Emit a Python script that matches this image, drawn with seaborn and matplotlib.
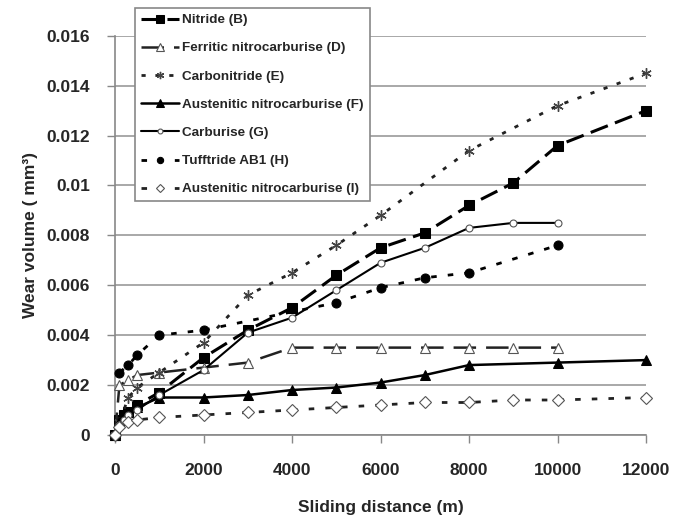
import matplotlib
matplotlib.use("Agg")
import matplotlib.pyplot as plt
from matplotlib.ticker import FuncFormatter, MultipleLocator
import seaborn as sns
import pandas as pd

sns.set_style("white")
plt.rcParams['font.family'] = ['Liberation Sans', 'DejaVu Sans']
plt.rcParams['font.weight'] = 'bold'

# ---- data (sliding distance m, wear volume mm^3) ----
b_x = [0, 100, 200, 300, 500, 1000, 2000, 3000, 4000, 5000, 6000, 7000, 8000, 9000, 10000, 12000]
b_y = [0, 0.0006, 0.0008, 0.0009, 0.0012, 0.0017, 0.0031, 0.0042, 0.0051, 0.0064, 0.0075, 0.0081, 0.0092, 0.0101, 0.0116, 0.0130]

d_x = [0, 100, 300, 500, 1000, 2000, 3000, 4000, 5000, 6000, 7000, 8000, 9000, 10000]
d_y = [0, 0.0020, 0.0022, 0.0024, 0.0025, 0.0027, 0.0029, 0.0035, 0.0035, 0.0035, 0.0035, 0.0035, 0.0035, 0.0035]

e_x = [0, 100, 300, 500, 1000, 2000, 3000, 4000, 5000, 6000, 8000, 10000, 12000]
e_y = [0, 0.0005, 0.0015, 0.0019, 0.0025, 0.0037, 0.0056, 0.0065, 0.0076, 0.0088, 0.0114, 0.0132, 0.0145]

f_x = [0, 100, 200, 300, 500, 1000, 2000, 3000, 4000, 5000, 6000, 7000, 8000, 10000, 12000]
f_y = [0, 0.0005, 0.0008, 0.0009, 0.0011, 0.0015, 0.0015, 0.0016, 0.0018, 0.0019, 0.0021, 0.0024, 0.0028, 0.0029, 0.0030]

g_x = [0, 100, 200, 300, 500, 1000, 2000, 3000, 4000, 5000, 6000, 7000, 8000, 9000, 10000]
g_y = [0, 0.0004, 0.0006, 0.0008, 0.0010, 0.0016, 0.0026, 0.0041, 0.0047, 0.0058, 0.0069, 0.0075, 0.0083, 0.0085, 0.0085]

h_x = [100, 300, 500, 1000, 2000, 5000, 6000, 7000, 8000, 10000]
h_y = [0.0025, 0.0028, 0.0032, 0.0040, 0.0042, 0.0053, 0.0059, 0.0063, 0.0065, 0.0076]

i_x = [0, 100, 300, 500, 1000, 2000, 3000, 4000, 5000, 6000, 7000, 8000, 9000, 10000, 12000]
i_y = [0, 0.0003, 0.0005, 0.0006, 0.0007, 0.0008, 0.0009, 0.0010, 0.0011, 0.0012, 0.0013, 0.0013, 0.0014, 0.0014, 0.0015]

labels = ["Nitride (B)", "Ferritic nitrocarburise (D)", "Carbonitride (E)",
          "Austenitic nitrocarburise (F)", "Carburise (G)", "Tufftride AB1 (H)",
          "Austenitic nitrocarburise (I)"]
xs = [b_x, d_x, e_x, f_x, g_x, h_x, i_x]
ys = [b_y, d_y, e_y, f_y, g_y, h_y, i_y]

styles = [
    dict(color="black", lw=2.2, dashes=(6, 2.5), marker="s", ms=7.5, mfc="black", mec="black"),
    dict(color="#222222", lw=1.8, dashes=(9, 4), marker="^", ms=7.5, mfc="white", mec="#555555", mew=0.8),
    dict(color="#222222", lw=2.0, dashes=(1.5, 3.5), marker=(6, 2, 0), ms=7.5, mfc="none", mec="#444444", mew=1.0),
    dict(color="black", lw=1.8, linestyle="-", marker="^", ms=7.5, mfc="black", mec="black"),
    dict(color="black", lw=1.5, linestyle="-", marker="o", ms=5, mfc="white", mec="#555555", mew=0.8),
    dict(color="black", lw=2.0, dashes=(2, 4), marker="o", ms=6.5, mfc="black", mec="black"),
    dict(color="#222222", lw=2.0, dashes=(2, 4), marker="D", ms=6, mfc="white", mec="#555555", mew=0.8),
]

fig = plt.figure(figsize=(6.9, 5.19), dpi=100)
ax = fig.add_axes([0.1667, 0.162, 0.7696, 0.769])

for lab, x, y, st in zip(labels, xs, ys, styles):
    df = pd.DataFrame({"x": x, "y": y})
    sns.lineplot(data=df, x="x", y="y", ax=ax, label=lab, clip_on=False, zorder=3, **st)

ax.set_xlim(0, 12000)
ax.set_ylim(0, 0.016)
ax.xaxis.set_major_locator(MultipleLocator(2000))
ax.yaxis.set_major_locator(MultipleLocator(0.002))
ax.yaxis.set_major_formatter(FuncFormatter(lambda v, p: "%g" % round(v, 4)))
ax.grid(axis="y", color="#999999", lw=1.2)
ax.grid(axis="x", visible=False)
for s in ["top", "right"]:
    ax.spines[s].set_visible(False)
for s in ["left", "bottom"]:
    ax.spines[s].set_color("#888888")
    ax.spines[s].set_linewidth(1.2)
ax.tick_params(axis="both", which="major", labelsize=12.5, length=6, width=1, color="#888888", direction="out",
               left=True, bottom=True)
ax.tick_params(axis="y", pad=12)
ax.tick_params(axis="x", pad=14)
for t in ax.get_xticklabels() + ax.get_yticklabels():
    t.set_fontweight("bold")
ax.set_xlabel("Sliding distance (m)", fontsize=12.5, fontweight="bold", labelpad=16)
ax.set_ylabel("Wear volume ( mm³)", fontsize=12.5, fontweight="bold", labelpad=6)

leg = ax.legend(loc="upper left", bbox_to_anchor=(0.196, 0.985), bbox_transform=fig.transFigure,
                fontsize=9.7, frameon=True, fancybox=False, edgecolor="#888888", framealpha=1,
                handlelength=2.8, labelspacing=1.17, borderpad=0.45, handletextpad=0.25, borderaxespad=0,
                markerscale=0.7)
leg.get_frame().set_linewidth(1.2)
for t in leg.get_texts():
    t.set_fontweight("bold")
leg.set_zorder(5)

fig.savefig("out.png", dpi=100)
